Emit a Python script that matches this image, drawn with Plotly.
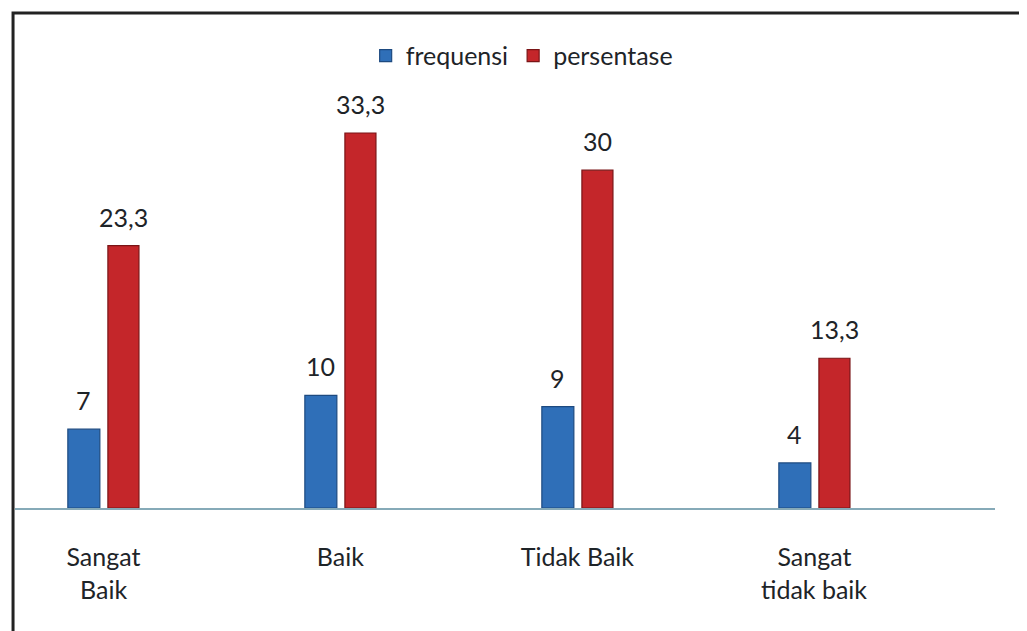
import plotly.graph_objects as go

categories = ["Sangat", "Baik", "Tidak Baik", "Sangat"]
categories_line2 = ["Baik", "", "", "tidak baik"]
frequensi = [7, 10, 9, 4]
persentase = [23.3, 33.3, 30, 13.3]
freq_labels = ["7", "10", "9", "4"]
pers_labels = ["23,3", "33,3", "30", "13,3"]

x = list(range(len(categories)))
FONT = "Lato, 'Open Sans', sans-serif"
TXT = "#1e2428"

B_OFF, B_W = -0.150, 0.135
R_OFF, R_W = 0.019, 0.131

fig = go.Figure()
fig.add_trace(go.Bar(
    x=x, y=frequensi, name="frequensi",
    width=B_W, offset=B_OFF,
    marker=dict(color="#2f6fb8", line=dict(color="#1d4a80", width=1.2)),
))
fig.add_trace(go.Bar(
    x=x, y=persentase, name="persentase",
    width=R_W, offset=R_OFF,
    marker=dict(color="#c4262a", line=dict(color="#7a1416", width=1.2)),
))

annotations = []
for i in x:
    annotations.append(dict(x=i + B_OFF + B_W / 2, y=frequensi[i], xref="x", yref="y",
                            text=freq_labels[i], showarrow=False, yanchor="middle",
                            yshift=29, font=dict(size=25, color=TXT, family=FONT)))
    annotations.append(dict(x=i + R_OFF + R_W / 2, y=persentase[i], xref="x", yref="y",
                            text=pers_labels[i], showarrow=False, yanchor="middle",
                            yshift=29, font=dict(size=25, color=TXT, family=FONT)))
    if categories_line2[i]:
        annotations.append(dict(x=i, y=0, xref="x", yref="y", text=categories_line2[i],
                                showarrow=False, yanchor="middle", yshift=-81,
                                font=dict(size=25, color=TXT, family=FONT)))

fig.update_layout(
    width=1019, height=623,
    margin=dict(l=7, r=32, t=32, b=123),
    paper_bgcolor="white", plot_bgcolor="white",
    barmode="overlay",
    font=dict(family=FONT, size=25, color=TXT),
    showlegend=True,
    legend=dict(orientation="h", x=0.517, xanchor="center", y=0.966, yanchor="middle",
                font=dict(size=25, color=TXT), itemwidth=30,
                bgcolor="rgba(0,0,0,0)"),
    xaxis=dict(range=[-0.373, 3.762], tickvals=x, ticktext=categories,
               showgrid=False, zeroline=False, showline=True,
               linecolor="#86aab8", linewidth=1.5, ticks="",
               ticklabelstandoff=26,
               tickfont=dict(size=25, color=TXT, family=FONT)),
    yaxis=dict(range=[0, 41.56], showgrid=False, zeroline=False,
               showticklabels=False, showline=False),
    annotations=annotations,
)
fig.add_shape(type="rect", xref="paper", yref="paper",
              x0=-0.002, x1=1.0265, y0=-0.30, y1=1.0577,
              line=dict(color="#222222", width=3), layer="above")

fig.write_html("out.html")
